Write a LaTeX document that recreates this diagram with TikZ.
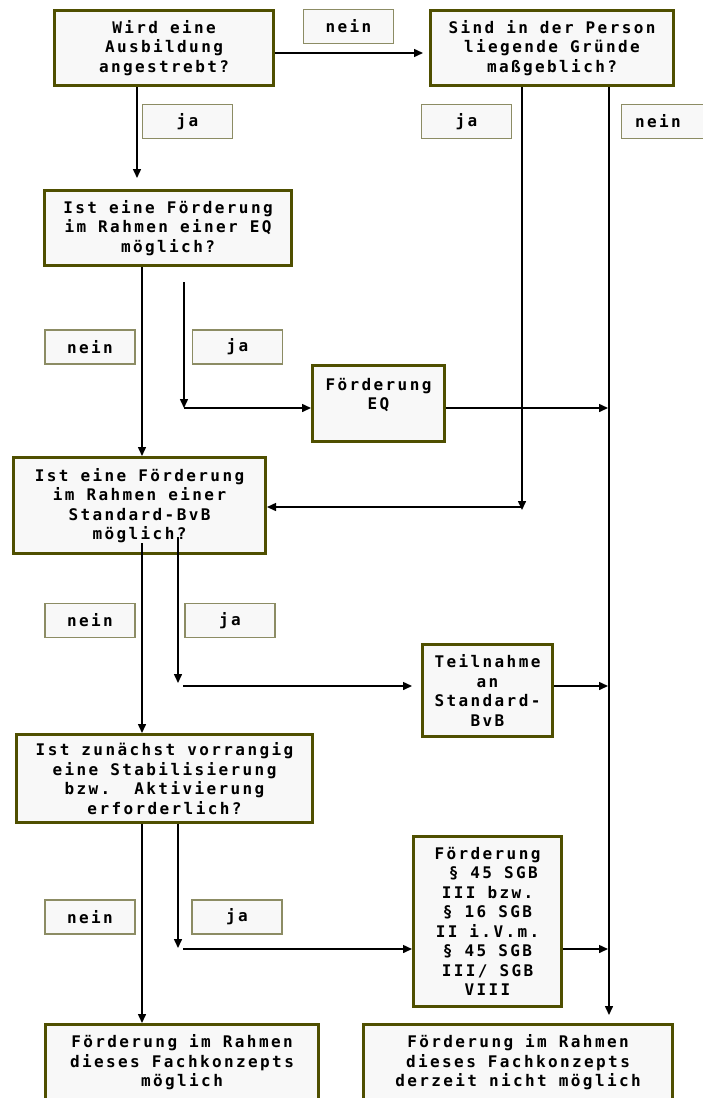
\documentclass[tikz,border=0pt]{standalone}
\usepackage{fontspec}
\newfontfamily\dmono{DejaVu Sans Mono Bold}[LetterSpace=15]
\usetikzlibrary{arrows.meta}
\definecolor{boxfill}{RGB}{248,248,248}
\definecolor{boxline}{RGB}{79,79,0}
\definecolor{labline}{RGB}{140,140,100}
\tikzset{
  txt/.style={font=\dmono\fontsize{16}{19.5}\selectfont, align=center, inner sep=0pt},
  box/.style={txt, draw=boxline, line width=3pt, fill=boxfill},
  lab/.style={txt, draw=labline, line width=1.5pt, fill=boxfill, minimum width=90pt, minimum height=34pt},
  arr/.style={-{Triangle[length=9pt,width=8pt]}, line width=1.5pt, black}
}
\begin{document}
\begin{tikzpicture}[x=1pt,y=-1pt]
\fill[white] (0,0) rectangle (702,1098);
\useasboundingbox (0,0) rectangle (702,1098);

% main boxes
\node[box, minimum width=219pt, minimum height=75pt] (b1) at (164,48) {Wird eine\\Ausbildung\\angestrebt?};
\node[box, minimum width=243pt, minimum height=75pt] (b2) at (552,48) {Sind in der Person\\liegende Gründe\\maßgeblich?};
\node[box, minimum width=247pt, minimum height=75pt] (b3) at (168,228) {Ist eine Förderung\\im Rahmen einer EQ\\möglich?};
\node[box, minimum width=132pt, minimum height=76pt] (eq) at (378.5,403.5) {Förderung\\EQ\\\mbox{}};
\node[box, minimum width=252pt, minimum height=96pt] (b4) at (139.5,505.5) {Ist eine Förderung\\im Rahmen einer\\Standard-BvB\\möglich?};
\node[box, minimum width=130pt, minimum height=92pt] (tn) at (487.5,690.5) {Teilnahme\\an\\Standard-\\BvB};
\node[box, minimum width=296pt, minimum height=88pt] (b5) at (164.5,778.5) {Ist zunächst vorrangig\\eine Stabilisierung\\bzw.~~Aktivierung\\erforderlich?};
\node[box, minimum width=148pt, minimum height=170pt] (fs) at (487.5,921.5) {Förderung\\\hspace*{11.6pt}§ 45 SGB\\III bzw.\\§ 16 SGB\\II i.V.m.\\§ 45 SGB\\III/ SGB\\VIII};
\node[box, minimum width=273pt, minimum height=92pt, anchor=north] (b6) at (182,1023) {Förderung im Rahmen\\dieses Fachkonzepts\\möglich\\\mbox{}};
\node[box, minimum width=309pt, minimum height=92pt, anchor=north] (b7) at (518,1023) {Förderung im Rahmen\\dieses Fachkonzepts\\derzeit nicht möglich\\\mbox{}};

% labels
\node[lab] (l1) at (348.5,26.5) {nein};
\node[lab] (l2) at (187.5,121.5) {ja};
\node[lab] (l3) at (466.5,121.5) {ja};
\node[lab, anchor=west] (l4) at (620.75,121.5) {nein\hspace*{17pt}};
\node[lab] (l5) at (90,347) {nein};
\node[lab] (l6) at (237.5,347) {ja};
\node[lab] (l7) at (90,620.5) {nein};
\node[lab] (l8) at (230,620.5) {ja};
\node[lab] (l9) at (90,917) {nein};
\node[lab] (l10) at (237,917) {ja};

% connectors
\coordinate (c1) at (137,178);
\draw[arr] (b1.south -| c1) -- (c1);
\coordinate (c2) at (423,53);
\draw[arr] (b1.east |- c2) -- (c2);
\coordinate (c3) at (522,510);
\draw[arr] (b2.south -| c3) -- (c3);
\coordinate (c4) at (522,507);
\draw[arr] (c4) -- (b4.east |- c4);
\coordinate (c5) at (609,1015);
\draw[arr] (b2.south -| c5) -- (c5);
\coordinate (c6) at (142,300);
\draw[arr] (b3.south -| c6) -- (b4.north -| c6);
\coordinate (c7a) at (184,282);
\coordinate (c7b) at (184,408);
\draw[arr] (c7a) -- (c7b);
\draw[arr] (c7b) -- (eq.west |- c7b);
\coordinate (c8) at (608,408);
\draw[arr] (eq.east |- c8) -- (c8);
\coordinate (c9a) at (142,543);
\draw[arr] (c9a) -- (b5.north -| c9a);
\coordinate (c10a) at (178,537);
\coordinate (c10b) at (178,683);
\coordinate (c10c) at (183,686);
\coordinate (c10d) at (412,686);
\draw[arr] (c10a) -- (c10b);
\draw[arr] (c10c) -- (c10d);
\coordinate (c11) at (608,686);
\draw[arr] (tn.east |- c11) -- (c11);
\coordinate (c12) at (142,900);
\draw[arr] (b5.south -| c12) -- (b6.north -| c12);
\coordinate (c13a) at (178,900);
\coordinate (c13b) at (178,948);
\coordinate (c13c) at (183,949);
\draw[arr] (b5.south -| c13a) -- (c13b);
\draw[arr] (c13c) -- (fs.west |- c13c);
\coordinate (c14) at (608,949);
\draw[arr] (fs.east |- c14) -- (c14);
\end{tikzpicture}
\end{document}
